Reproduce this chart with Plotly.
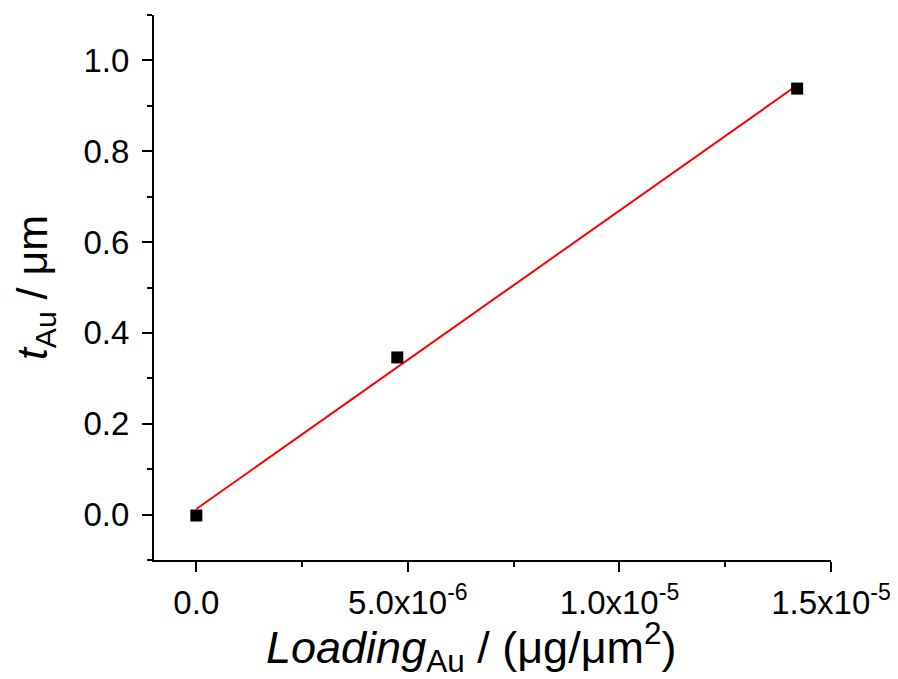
import numpy as np
import plotly.graph_objects as go

loading = [0.0, 4.75e-6, 1.42e-5]
thickness = [-0.002, 0.346, 0.938]

x_tickvals = [0, 5e-6, 1e-5, 1.5e-5]
x_ticktext = ["0.0", "5.0x10<sup>-6</sup>", "1.0x10<sup>-5</sup>", "1.5x10<sup>-5</sup>"]
y_tickvals = [0.0, 0.2, 0.4, 0.6, 0.8, 1.0]
y_ticktext = ["0.0", "0.2", "0.4", "0.6", "0.8", "1.0"]

slope, intercept = np.polyfit(loading, thickness, 1)
fit_x = [loading[0], loading[-1]]
fit_y = [slope * v + intercept for v in fit_x]

fig = go.Figure()
fig.add_trace(go.Scatter(x=fit_x, y=fit_y, mode="lines",
                         line=dict(color="#ff0000", width=2), showlegend=False))
fig.add_trace(go.Scatter(x=loading, y=thickness, mode="markers",
                         marker=dict(symbol="square", size=12, color="black"),
                         showlegend=False))

font = "Liberation Sans, Arial, sans-serif"
fig.update_layout(
    width=890, height=671,
    margin=dict(l=146, r=67, t=7, b=119),
    plot_bgcolor="white", paper_bgcolor="white",
    font=dict(family=font, color="black", size=33),
)
fig.update_xaxes(
    range=[-1e-6, 1.5e-5], showgrid=False, zeroline=False,
    showline=True, linecolor="black", linewidth=2,
    ticks="outside", ticklen=10, tickwidth=2, tickcolor="black",
    tickvals=x_tickvals, ticktext=x_ticktext,
    tickfont=dict(size=33, family=font, color="black"),
    ticklabelstandoff=2,
    minor=dict(dtick=2.5e-6, tick0=0, ticks="outside", ticklen=5, tickwidth=2, tickcolor="black"),
)
fig.update_yaxes(
    range=[-0.1, 1.1], showgrid=False, zeroline=False,
    showline=True, linecolor="black", linewidth=2,
    ticks="outside", ticklen=10, tickwidth=2, tickcolor="black",
    tickvals=y_tickvals, ticktext=y_ticktext,
    tickfont=dict(size=33, family=font, color="black"),
    ticklabelstandoff=6,
    minor=dict(dtick=0.1, tick0=0, ticks="outside", ticklen=5, tickwidth=2, tickcolor="black"),
    title=dict(text="<i>t</i><sub>Au</sub> / μm", font=dict(size=43, family=font, color="black"), standoff=22),
)
fig.add_annotation(
    text="<i>Loading</i><sub>Au</sub> / (μg/μm<sup>2</sup>)",
    xref="paper", yref="paper", x=0.469, y=-0.16,
    xanchor="center", yanchor="middle", showarrow=False,
    font=dict(size=45, family=font, color="black"),
)
fig.write_html("out.html")
